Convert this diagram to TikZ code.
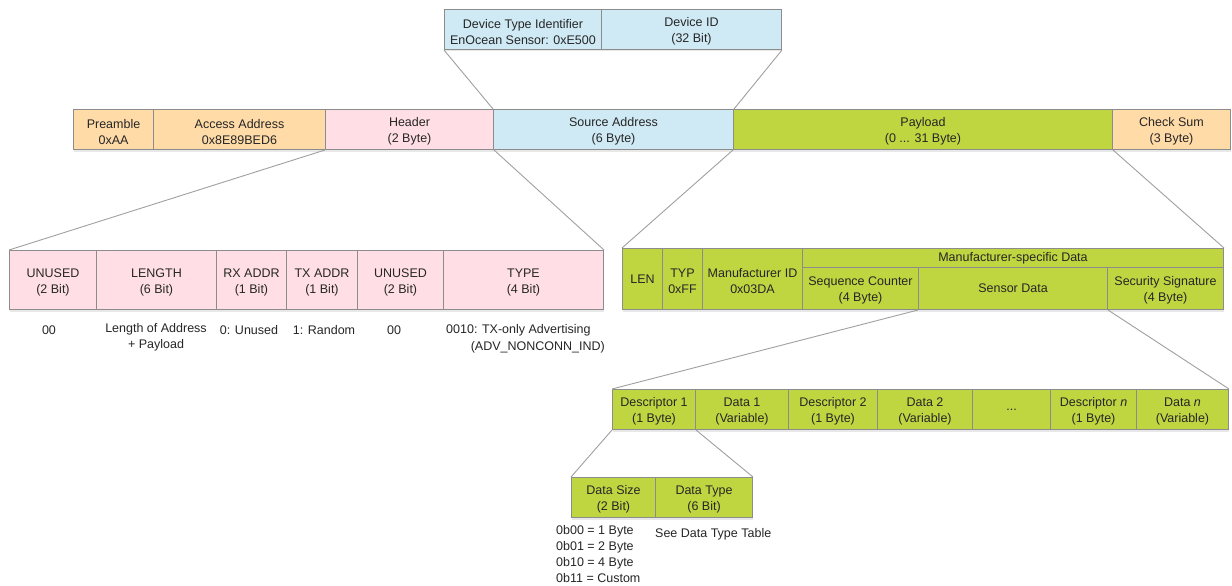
\documentclass[tikz,border=0pt]{standalone}
\usepackage{fontspec}
\setmainfont{Liberation Sans}
\usetikzlibrary{shadows}
\definecolor{peach}{HTML}{FFDBA8}
\definecolor{pinkc}{HTML}{FFDFE5}
\definecolor{bluec}{HTML}{CFEAF5}
\definecolor{greenc}{HTML}{BFD641}
\definecolor{edgec}{HTML}{8C8C8C}
\definecolor{linec}{HTML}{A0A0A0}
\tikzset{
  cell/.style={draw=edgec, line width=1pt, anchor=north west, inner sep=0pt, align=center,
    font=\fontsize{12.5}{16}\selectfont, text=black!85,
    drop shadow={opacity=0.18, shadow xshift=0pt, shadow yshift=-2pt}},
  conn/.style={draw=linec, line width=0.9pt},
  lbl/.style={inner sep=0pt, font=\fontsize{12.5}{16}\selectfont, text=black!85}
}
\newcommand\cellbox[7]{% name, color, x, y, w, h, text (two lines)
  \node[cell, fill=#2, minimum width=#5pt, minimum height=#6pt] (#1) at (#3,#4) {\rule{0pt}{13.5pt}#7};}
\newcommand\cellone[7]{% name, color, x, y, w, h, text (one line)
  \node[cell, fill=#2, minimum width=#5pt, minimum height=#6pt] (#1) at (#3,#4) {#7};}
\begin{document}
\begin{tikzpicture}[x=1pt,y=-1pt]
\useasboundingbox[fill=white] (0,0) rectangle (1232,586);
% top
\cellbox{dti}{bluec}{444}{9}{157}{40}{Device Type Identifier\\EnOcean Sensor: 0xE500}
\cellbox{did}{bluec}{601}{9}{180}{40}{Device ID\\(32 Bit)}
% row 2
\cellbox{pre}{peach}{73}{109}{80}{40}{Preamble\\0xAA}
\cellbox{acc}{peach}{153}{109}{172}{40}{Access Address\\0x8E89BED6}
\cellbox{hdr}{pinkc}{325}{109}{168}{40}{Header\\(2 Byte)}
\cellbox{src}{bluec}{493}{109}{240}{40}{Source Address\\(6 Byte)}
\cellbox{pay}{greenc}{733}{109}{379}{40}{Payload\\(0 ... 31 Byte)}
\cellbox{chk}{peach}{1112}{109}{118}{40}{Check Sum\\(3 Byte)}
% header breakdown
\cellbox{ua}{pinkc}{9}{250}{87}{59}{UNUSED\\(2 Bit)}
\cellbox{len}{pinkc}{96}{250}{120}{59}{LENGTH\\(6 Bit)}
\cellbox{rx}{pinkc}{216}{250}{70}{59}{RX ADDR\\(1 Bit)}
\cellbox{tx}{pinkc}{286}{250}{71}{59}{TX ADDR\\(1 Bit)}
\cellbox{ub}{pinkc}{357}{250}{86}{59}{UNUSED\\(2 Bit)}
\cellbox{typ}{pinkc}{443}{250}{160}{59}{TYPE\\(4 Bit)}
% labels under header
\node[lbl] (l1) at (49,330) {00};
\node[lbl, align=center, anchor=north] (l2) at (156,323) {Length of Address\\+ Payload};
\node[lbl] (l3) at (249,330) {0: Unused};
\node[lbl] (l4) at (324,330) {1: Random};
\node[lbl] (l5) at (394,330) {00};
\node[lbl, anchor=west] (l6) at (446,330) {0010: TX-only Advertising};
\node[lbl, anchor=east] (l7) at (605,347) {(ADV\_NONCONN\_IND)};
% payload breakdown
\cellone{plen}{greenc}{622}{248}{40}{61}{LEN}
\cellbox{ptyp}{greenc}{662}{248}{40}{61}{TYP\\0xFF}
\cellbox{mid}{greenc}{702}{248}{100}{61}{Manufacturer ID\\0x03DA}
\cellone{msd}{greenc}{802}{248}{421}{19}{Manufacturer-specific Data}
\cellbox{seq}{greenc}{802}{267}{116}{42}{Sequence Counter\\(4 Byte)}
\cellone{sens}{greenc}{918}{267}{189}{42}{Sensor Data}
\cellbox{sig}{greenc}{1107}{267}{116}{42}{Security Signature\\(4 Byte)}
% sensor data breakdown
\cellbox{da}{greenc}{612}{389}{83}{40}{Descriptor 1\\(1 Byte)}
\cellbox{dd}{greenc}{695}{389}{93}{40}{Data 1\\(Variable)}
\cellbox{db}{greenc}{788}{389}{89}{40}{Descriptor 2\\(1 Byte)}
\cellbox{de}{greenc}{877}{389}{95}{40}{Data 2\\(Variable)}
\cellone{dots}{greenc}{972}{389}{78}{40}{...}
\cellbox{dn}{greenc}{1050}{389}{86}{40}{Descriptor \textit{n}\\(1 Byte)}
\cellbox{dan}{greenc}{1136}{389}{92}{40}{Data \textit{n}\\(Variable)}
% descriptor breakdown
\cellbox{dsz}{greenc}{571}{477}{84}{40}{Data Size\\(2 Bit)}
\cellbox{dty}{greenc}{655}{477}{97}{40}{Data Type\\(6 Bit)}
\node[lbl, align=left, anchor=north west] (szl) at (556,525) {0b00 = 1 Byte\\0b01 = 2 Byte\\0b10 = 4 Byte\\0b11 = Custom};
\node[lbl, anchor=west] (tyl) at (655,534) {See Data Type Table};
% connectors
\draw[conn] (dti.south west) -- (src.north west);
\draw[conn] (did.south east) -- (src.north east);
\draw[conn] (hdr.south west) -- (ua.north west);
\draw[conn] (hdr.south east) -- (typ.north east);
\draw[conn] (pay.south west) -- (plen.north west);
\draw[conn] (pay.south east) -- (msd.north east);
\draw[conn] (sens.south west) -- (da.north west);
\draw[conn] (sens.south east) -- (dan.north east);
\draw[conn] (da.south west) -- (dsz.north west);
\draw[conn] (da.south east) -- (dty.north east);
\end{tikzpicture}
\end{document}
